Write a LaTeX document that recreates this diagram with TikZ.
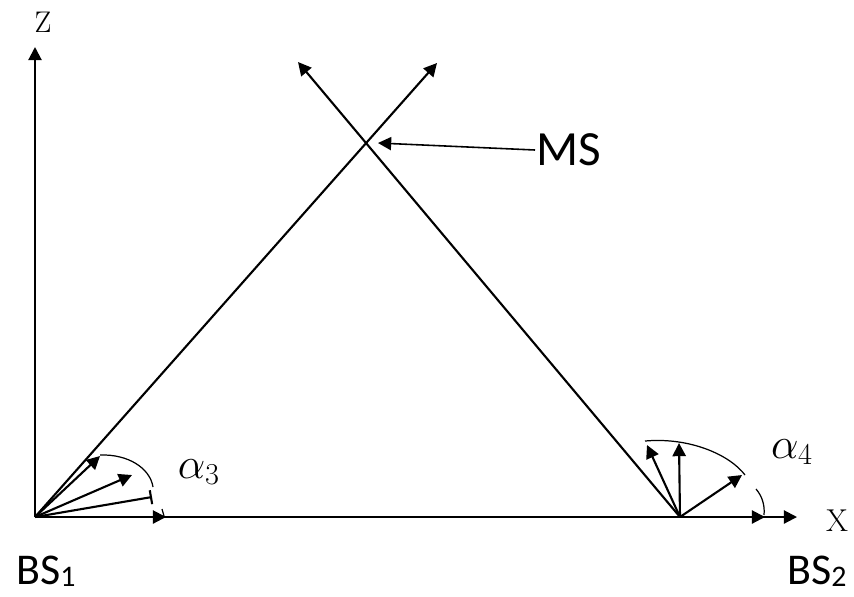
\documentclass[tikz,border=0pt]{standalone}
\usepackage{amsmath, amssymb}
\usepackage{fontspec}
\newfontfamily\calibri{Carlito}
\usetikzlibrary{arrows.meta}

\begin{document}
\begin{tikzpicture}[x=0.02cm, y=-0.02cm, >={Triangle[length=7.5pt,width=7.5pt]}, line width=1.2pt,
    sans/.style={font=\calibri\fontsize{25}{25}\selectfont, inner sep=0pt},
    axislabel/.style={font=\fontsize{18}{18}\selectfont, inner sep=0pt},
    anglelabel/.style={font=\fontsize{25}{25}\selectfont, inner sep=0pt},
    sweep/.style={line width=0.7pt}]
    \useasboundingbox (0,0) rectangle (854,596);

    % stations and axes
    \coordinate (bs1) at (35,517);
    \coordinate (bs2) at (680,517);
    \coordinate (ztip) at (35,47);
    \coordinate (xtip) at (797,517);
    \coordinate (top1) at (437,63);
    \coordinate (top2) at (298,62);
    \coordinate (mstip) at (378,143);

    \draw[->] (bs1) -- (ztip);
    \draw[->] (bs1) -- (xtip);
    \draw[->] (bs1) -- (top1);
    \draw[->] (bs2) -- (top2);

    \node[axislabel, font=\fontsize{17}{17}\selectfont] (zlab) at (43,22) {Z};
    \node[axislabel] (xlab) at (837,521) {X};
    \node[sans] (bs1lab) at (46,571) {BS\raisebox{-0.1ex}{\fontsize{17}{17}\selectfont 1}};
    \node[sans] (bs2lab) at (817,571) {BS\raisebox{-0.1ex}{\fontsize{17}{17}\selectfont 2}};

    % mobile station
    \node[sans, anchor=west, font=\calibri\fontsize{28}{28}\selectfont] (ms) at (535,150) {MS};
    \draw[->, line width=0.9pt] (ms.west) -- (mstip);

    % beams at BS1
    \coordinate (a1) at (100,456);
    \coordinate (a2) at (132,475);
    \coordinate (a3) at (152,497);
    \coordinate (a4) at (166,517);
    \draw[->] (bs1) -- (a1);
    \draw[->] (bs1) -- (a2);
    \draw[-{Bar[width=8pt]}] (bs1) -- (a3);
    \draw[->] (bs1) -- (a4);
    \draw[sweep] (100,455) .. controls (128,454) and (150,468) .. (153,487);
    \draw[sweep] (162,509) -- (164,516);
    \node[anglelabel] (alpha3) at (199,472) {$\alpha_3$};

    % beams at BS2
    \coordinate (b1) at (647,445);
    \coordinate (b2) at (679,443);
    \coordinate (b3) at (742,475);
    \coordinate (b4) at (765,517);
    \draw[->] (bs2) -- (b1);
    \draw[->] (bs2) -- (b2);
    \draw[->] (bs2) -- (b3);
    \draw[->] (bs2) -- (b4);
    \draw[sweep] (645,441) .. controls (690,437) and (730,455) .. (745,475);
    \draw[sweep] (756,489) .. controls (762,496) and (765,505) .. (764,515);
    \node[anglelabel] (alpha4) at (792,452) {$\alpha_4$};
\end{tikzpicture}
\end{document}
